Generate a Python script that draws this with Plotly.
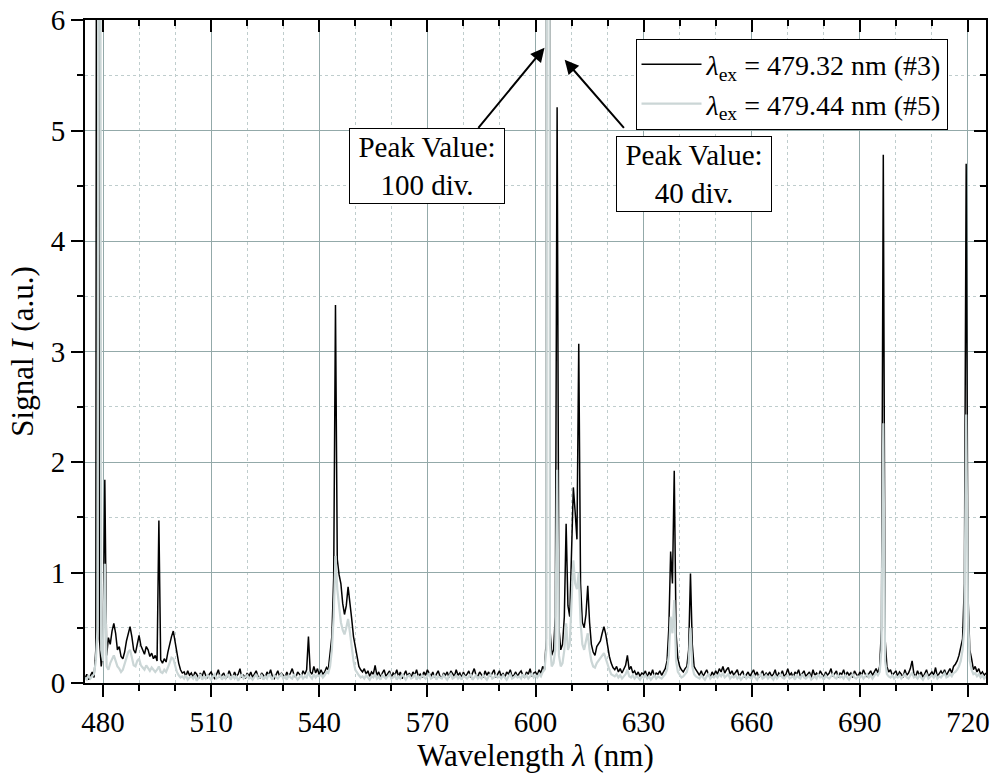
import numpy as np
import plotly.graph_objects as go

# Emission spectra, sampled every 0.5 nm from 475.0 nm to 725.0 nm
start_nm = 475.0
step_nm = 0.5

# lambda_ex = 479.32 nm (#3) -- one row per 5 nm
signal_3 = [
    0.04, 0.08, 0.03, 0.06, 0.10, 0.05, 0.30, 20.0, 0.40, 0.15,   # 475
    0.30, 1.84, 0.25, 0.41, 0.35, 0.47, 0.54, 0.45, 0.30, 0.33,   # 480
    0.24, 0.22, 0.28, 0.38, 0.46, 0.51, 0.42, 0.30, 0.27, 0.36,   # 485
    0.43, 0.34, 0.30, 0.26, 0.33, 0.30, 0.24, 0.27, 0.22, 0.25,   # 490
    0.20, 1.47, 0.21, 0.18, 0.22, 0.19, 0.28, 0.36, 0.42, 0.47,   # 495
    0.36, 0.28, 0.18, 0.12, 0.09, 0.10, 0.06, 0.11, 0.07, 0.09,   # 500
    0.05, 0.10, 0.08, 0.04, 0.09, 0.06, 0.11, 0.07, 0.05, 0.08,   # 505
    0.10, 0.06, 0.04, 0.08, 0.12, 0.05, 0.07, 0.09, 0.04, 0.06,   # 510
    0.11, 0.07, 0.05, 0.10, 0.06, 0.08, 0.13, 0.05, 0.07, 0.04,   # 515
    0.09, 0.06, 0.10, 0.05, 0.08, 0.11, 0.06, 0.04, 0.09, 0.07,   # 520
    0.05, 0.10, 0.07, 0.12, 0.06, 0.04, 0.08, 0.11, 0.06, 0.09,   # 525
    0.07, 0.05, 0.10, 0.06, 0.09, 0.13, 0.07, 0.05, 0.10, 0.08,   # 530
    0.06, 0.11, 0.08, 0.12, 0.42, 0.10, 0.08, 0.15, 0.09, 0.13,   # 535
    0.07, 0.12, 0.08, 0.10, 0.14, 0.12, 0.25, 0.42, 0.95, 3.42,   # 540
    1.12, 0.98, 0.90, 0.72, 0.62, 0.70, 0.87, 0.75, 0.58, 0.42,   # 545
    0.33, 0.22, 0.15, 0.12, 0.10, 0.13, 0.08, 0.11, 0.06, 0.10,   # 550
    0.08, 0.16, 0.07, 0.10, 0.05, 0.09, 0.12, 0.06, 0.08, 0.11,   # 555
    0.05, 0.09, 0.07, 0.12, 0.06, 0.10, 0.04, 0.08, 0.11, 0.06,   # 560
    0.09, 0.05, 0.10, 0.07, 0.12, 0.06, 0.08, 0.05, 0.10, 0.07,   # 565
    0.12, 0.09, 0.06, 0.10, 0.05, 0.08, 0.11, 0.06, 0.04, 0.09,   # 570
    0.07, 0.10, 0.05, 0.11, 0.08, 0.06, 0.12, 0.07, 0.09, 0.05,   # 575
    0.10, 0.06, 0.08, 0.11, 0.05, 0.09, 0.13, 0.07, 0.06, 0.10,   # 580
    0.08, 0.05, 0.11, 0.07, 0.10, 0.06, 0.09, 0.12, 0.05, 0.08,   # 585
    0.11, 0.06, 0.09, 0.05, 0.10, 0.08, 0.12, 0.06, 0.07, 0.10,   # 590
    0.06, 0.09, 0.11, 0.07, 0.05, 0.10, 0.08, 0.13, 0.06, 0.09,   # 595
    0.10, 0.07, 0.12, 0.09, 0.15, 0.12, 0.40, 100.0, 0.50, 0.25,  # 600
    0.30, 0.60, 5.21, 0.50, 0.30, 0.35, 0.60, 1.44, 0.70, 0.60,   # 605
    1.20, 1.77, 1.55, 1.30, 3.07, 0.90, 0.55, 0.50, 0.62, 0.88,   # 610
    0.55, 0.35, 0.28, 0.25, 0.33, 0.35, 0.38, 0.45, 0.51, 0.44,   # 615
    0.33, 0.24, 0.18, 0.14, 0.12, 0.15, 0.10, 0.13, 0.09, 0.12,   # 620
    0.16, 0.25, 0.12, 0.15, 0.09, 0.11, 0.07, 0.10, 0.06, 0.09,   # 625
    0.08, 0.11, 0.05, 0.10, 0.07, 0.12, 0.06, 0.09, 0.08, 0.11,   # 630
    0.07, 0.10, 0.13, 0.20, 0.50, 1.19, 0.90, 1.92, 0.45, 0.22,   # 635
    0.15, 0.12, 0.10, 0.13, 0.15, 0.30, 0.99, 0.35, 0.15, 0.12,   # 640
    0.10, 0.07, 0.11, 0.06, 0.09, 0.12, 0.08, 0.05, 0.10, 0.07,   # 645
    0.11, 0.08, 0.13, 0.10, 0.15, 0.09, 0.12, 0.14, 0.08, 0.11,   # 650
    0.07, 0.10, 0.12, 0.06, 0.09, 0.11, 0.05, 0.08, 0.10, 0.06,   # 655
    0.09, 0.12, 0.07, 0.10, 0.05, 0.08, 0.11, 0.06, 0.09, 0.07,   # 660
    0.10, 0.06, 0.08, 0.12, 0.05, 0.09, 0.07, 0.11, 0.06, 0.08,   # 665
    0.13, 0.07, 0.09, 0.05, 0.10, 0.08, 0.12, 0.06, 0.09, 0.11,   # 670
    0.06, 0.08, 0.10, 0.05, 0.12, 0.07, 0.09, 0.06, 0.11, 0.08,   # 675
    0.05, 0.10, 0.07, 0.09, 0.13, 0.06, 0.08, 0.11, 0.05, 0.09,   # 680
    0.08, 0.12, 0.06, 0.10, 0.07, 0.09, 0.05, 0.11, 0.08, 0.06,   # 685
    0.10, 0.07, 0.12, 0.08, 0.06, 0.09, 0.11, 0.07, 0.10, 0.13,   # 690
    0.09, 0.15, 0.50, 4.78, 0.40, 0.15, 0.10, 0.12, 0.07, 0.09,   # 695
    0.11, 0.06, 0.10, 0.08, 0.05, 0.12, 0.07, 0.09, 0.13, 0.20,   # 700
    0.08, 0.06, 0.11, 0.07, 0.10, 0.05, 0.09, 0.12, 0.06, 0.08,   # 705
    0.10, 0.07, 0.14, 0.06, 0.09, 0.11, 0.08, 0.12, 0.07, 0.10,   # 710
    0.13, 0.09, 0.15, 0.17, 0.20, 0.25, 0.33, 0.40, 0.90, 4.70,   # 715
    0.80, 0.30, 0.22, 0.12, 0.15, 0.10, 0.13, 0.08, 0.10, 0.07,   # 720
    0.09,                                                         # 725
]

# lambda_ex = 479.44 nm (#5)
signal_5 = [
    0.05, 0.03, 0.07, 0.04, 0.06, 0.08, 0.20, 0.50, 15.0, 0.30,   # 475
    0.20, 1.08, 0.15, 0.12, 0.18, 0.22, 0.25, 0.20, 0.15, 0.13,   # 480
    0.10, 0.12, 0.18, 0.24, 0.28, 0.30, 0.22, 0.16, 0.15, 0.20,   # 485
    0.22, 0.16, 0.14, 0.12, 0.16, 0.13, 0.11, 0.14, 0.12, 0.10,   # 490
    0.12, 0.15, 0.10, 0.09, 0.12, 0.10, 0.14, 0.18, 0.23, 0.22,   # 495
    0.16, 0.10, 0.07, 0.05, 0.06, 0.04, 0.07, 0.03, 0.05, 0.06,   # 500
    0.04, 0.07, 0.02, 0.05, 0.08, 0.03, 0.06, 0.04, 0.07, 0.05,   # 505
    0.03, 0.06, 0.08, 0.04, 0.05, 0.07, 0.03, 0.06, 0.04, 0.08,   # 510
    0.05, 0.03, 0.07, 0.04, 0.06, 0.02, 0.05, 0.08, 0.04, 0.06,   # 515
    0.07, 0.04, 0.05, 0.03, 0.06, 0.08, 0.04, 0.05, 0.07, 0.03,   # 520
    0.06, 0.04, 0.08, 0.05, 0.03, 0.07, 0.05, 0.04, 0.06, 0.08,   # 525
    0.04, 0.06, 0.03, 0.07, 0.05, 0.04, 0.08, 0.06, 0.03, 0.05,   # 530
    0.07, 0.04, 0.06, 0.05, 0.10, 0.06, 0.04, 0.08, 0.05, 0.07,   # 535
    0.06, 0.08, 0.05, 0.07, 0.10, 0.09, 0.15, 0.30, 0.60, 1.15,   # 540
    0.85, 0.70, 0.55, 0.48, 0.44, 0.50, 0.58, 0.46, 0.30, 0.20,   # 545
    0.12, 0.09, 0.07, 0.05, 0.06, 0.04, 0.07, 0.05, 0.03, 0.06,   # 550
    0.05, 0.08, 0.04, 0.06, 0.03, 0.07, 0.05, 0.04, 0.06, 0.08,   # 555
    0.04, 0.05, 0.07, 0.03, 0.06, 0.04, 0.08, 0.05, 0.03, 0.06,   # 560
    0.07, 0.04, 0.05, 0.08, 0.03, 0.06, 0.04, 0.07, 0.05, 0.04,   # 565
    0.06, 0.08, 0.04, 0.05, 0.07, 0.03, 0.06, 0.05, 0.04, 0.07,   # 570
    0.05, 0.03, 0.06, 0.08, 0.04, 0.05, 0.07, 0.04, 0.06, 0.03,   # 575
    0.07, 0.05, 0.04, 0.06, 0.08, 0.03, 0.05, 0.07, 0.04, 0.06,   # 580
    0.04, 0.07, 0.05, 0.03, 0.06, 0.08, 0.04, 0.05, 0.07, 0.05,   # 585
    0.06, 0.04, 0.07, 0.05, 0.03, 0.06, 0.08, 0.04, 0.05, 0.07,   # 590
    0.05, 0.06, 0.04, 0.08, 0.05, 0.07, 0.04, 0.06, 0.09, 0.05,   # 595
    0.07, 0.05, 0.08, 0.06, 0.10, 0.12, 0.30, 40.0, 0.35, 0.15,   # 600
    0.18, 0.30, 1.93, 0.25, 0.15, 0.18, 0.30, 0.54, 0.30, 0.35,   # 605
    0.70, 1.11, 0.90, 0.85, 1.00, 0.55, 0.35, 0.30, 0.38, 0.45,   # 610
    0.30, 0.20, 0.15, 0.14, 0.18, 0.20, 0.22, 0.25, 0.27, 0.22,   # 615
    0.16, 0.12, 0.08, 0.07, 0.06, 0.08, 0.05, 0.07, 0.04, 0.06,   # 620
    0.08, 0.12, 0.06, 0.05, 0.07, 0.04, 0.06, 0.05, 0.03, 0.06,   # 625
    0.05, 0.07, 0.04, 0.06, 0.03, 0.05, 0.07, 0.04, 0.06, 0.05,   # 630
    0.04, 0.06, 0.08, 0.12, 0.25, 0.60, 0.45, 0.75, 0.20, 0.10,   # 635
    0.07, 0.05, 0.06, 0.08, 0.10, 0.18, 0.50, 0.15, 0.08, 0.06,   # 640
    0.05, 0.04, 0.07, 0.05, 0.03, 0.06, 0.08, 0.04, 0.06, 0.05,   # 645
    0.07, 0.05, 0.08, 0.06, 0.09, 0.05, 0.07, 0.08, 0.04, 0.06,   # 650
    0.05, 0.07, 0.04, 0.06, 0.03, 0.05, 0.07, 0.04, 0.06, 0.05,   # 655
    0.04, 0.07, 0.05, 0.03, 0.06, 0.08, 0.04, 0.05, 0.07, 0.04,   # 660
    0.06, 0.05, 0.03, 0.07, 0.04, 0.06, 0.08, 0.05, 0.04, 0.06,   # 665
    0.07, 0.04, 0.05, 0.06, 0.03, 0.07, 0.05, 0.04, 0.08, 0.05,   # 670
    0.04, 0.06, 0.07, 0.03, 0.05, 0.06, 0.04, 0.08, 0.05, 0.06,   # 675
    0.03, 0.07, 0.05, 0.04, 0.06, 0.08, 0.05, 0.04, 0.07, 0.05,   # 680
    0.06, 0.04, 0.07, 0.05, 0.03, 0.06, 0.08, 0.05, 0.04, 0.06,   # 685
    0.05, 0.07, 0.04, 0.06, 0.08, 0.05, 0.07, 0.04, 0.06, 0.09,   # 690
    0.07, 0.10, 0.30, 2.35, 0.20, 0.08, 0.06, 0.05, 0.07, 0.04,   # 695
    0.06, 0.05, 0.07, 0.04, 0.06, 0.08, 0.05, 0.04, 0.07, 0.09,   # 700
    0.05, 0.06, 0.04, 0.07, 0.05, 0.03, 0.06, 0.08, 0.04, 0.06,   # 705
    0.07, 0.05, 0.08, 0.04, 0.06, 0.05, 0.07, 0.09, 0.05, 0.06,   # 710
    0.08, 0.06, 0.09, 0.10, 0.12, 0.15, 0.20, 0.30, 0.50, 2.43,   # 715
    0.60, 0.20, 0.12, 0.08, 0.09, 0.06, 0.08, 0.05, 0.07, 0.04,   # 720
    0.06,                                                         # 725
]

series_names = [
    "<i>λ</i><sub>ex</sub> = 479.32 nm (#3)",
    "<i>λ</i><sub>ex</sub> = 479.44 nm (#5)",
]
series_colors = ["#000000", "#CBD6D6"]
series_widths = [1.5, 2.2]

x_range = [475, 725]
y_range = [0, 6]
x_ticks = [480, 510, 540, 570, 600, 630, 660, 690, 720]
y_ticks = [0, 1, 2, 3, 4, 5, 6]

peak_label_3 = "Peak Value:<br>100 div."
peak_label_5 = "Peak Value:<br>40 div."

wavelength = np.round(start_nm + step_nm * np.arange(len(signal_3)), 1)

FONT = "Liberation Serif"
GRID = "#93A9A9"
MINOR_GRID = "#BFCDCD"


def serif(size):
    return dict(family=FONT, size=size, color="black")


fig = go.Figure()
for vals, name, color, w in zip([signal_3, signal_5], series_names,
                                series_colors, series_widths):
    fig.add_trace(go.Scatter(
        x=wavelength, y=vals, mode="lines", name=name,
        line=dict(color=color, width=w),
    ))

# empty trace on the mirrored (top/right) axes so they are drawn
fig.add_trace(go.Scatter(x=[], y=[], xaxis="x2", yaxis="y2",
                         showlegend=False, hoverinfo="skip"))

fig.update_layout(
    width=994, height=776,
    margin=dict(l=85, r=4, t=15, b=93),
    paper_bgcolor="white", plot_bgcolor="white",
    font=serif(29),
    showlegend=True,
    legend=dict(
        x=0.611, y=0.972, xanchor="left", yanchor="top",
        bgcolor="white", bordercolor="black", borderwidth=1,
        font=serif(28), itemwidth=60, tracegroupgap=0,
    ),
    xaxis=dict(
        range=x_range, tickvals=x_ticks, ticks="outside",
        ticklen=12, tickwidth=2, tickcolor="black",
        showline=True, linecolor="black", linewidth=2,
        showgrid=True, gridcolor=GRID, gridwidth=1.3,
        zeroline=False, tickfont=serif(29), ticklabeloverflow="allow",
        minor=dict(dtick=10, tick0=480, ticks="outside", ticklen=6,
                   tickwidth=2, tickcolor="black", showgrid=True,
                   gridcolor=MINOR_GRID, griddash="dot", gridwidth=1),
        title=dict(text="Wavelength <i>λ</i> (nm)", font=serif(31),
                   standoff=7),
    ),
    yaxis=dict(
        range=y_range, tickvals=y_ticks, ticks="outside",
        ticklen=12, tickwidth=2, tickcolor="black",
        showline=True, linecolor="black", linewidth=2,
        showgrid=True, gridcolor=GRID, gridwidth=1.3,
        zeroline=False, tickfont=serif(29), ticklabeloverflow="allow",
        minor=dict(dtick=0.5, ticks="outside", ticklen=6,
                   tickwidth=2, tickcolor="black", showgrid=True,
                   gridcolor=MINOR_GRID, griddash="dot", gridwidth=1),
        title=dict(text="Signal <i>I</i> (a.u.)", font=serif(31),
                   standoff=8),
    ),
    xaxis2=dict(
        overlaying="x", side="top", anchor="y", range=x_range,
        tickvals=x_ticks, ticks="inside", ticklen=12, tickwidth=2,
        tickcolor="black", showticklabels=False,
        showline=True, linecolor="black", linewidth=2,
        showgrid=False, zeroline=False,
        minor=dict(dtick=10, tick0=480, ticks="inside", ticklen=6,
                   tickwidth=2, tickcolor="black", showgrid=False),
    ),
    yaxis2=dict(
        overlaying="y", side="right", anchor="x", range=y_range,
        tickvals=y_ticks, ticks="inside", ticklen=12, tickwidth=2,
        tickcolor="black", showticklabels=False,
        showline=True, linecolor="black", linewidth=2,
        showgrid=False, zeroline=False,
        minor=dict(dtick=0.5, ticks="inside", ticklen=6,
                   tickwidth=2, tickcolor="black", showgrid=False),
    ),
)

# labelled boxes for the clipped 603 nm line
box_style = dict(
    showarrow=False, xref="x", yref="y", font=serif(29),
    bgcolor="white", bordercolor="black", borderwidth=1, borderpad=2,
    width=150, height=70, align="center",
)
fig.add_annotation(x=570.0, y=4.68, text=peak_label_3, **box_style)
fig.add_annotation(x=644.1, y=4.61, text=peak_label_5, **box_style)

# arrows from the boxes to the clipped peak
arrow_style = dict(
    text="", showarrow=True, xref="x", yref="y", axref="x", ayref="y",
    arrowhead=2, arrowsize=1.4, arrowwidth=2, arrowcolor="black",
    standoff=0, startstandoff=0,
)
fig.add_annotation(x=602.5, y=5.75, ax=583.8, ay=5.01, **arrow_style)
fig.add_annotation(x=608.1, y=5.64, ax=624.9, ay=5.01, **arrow_style)

fig.write_html("out.html")
